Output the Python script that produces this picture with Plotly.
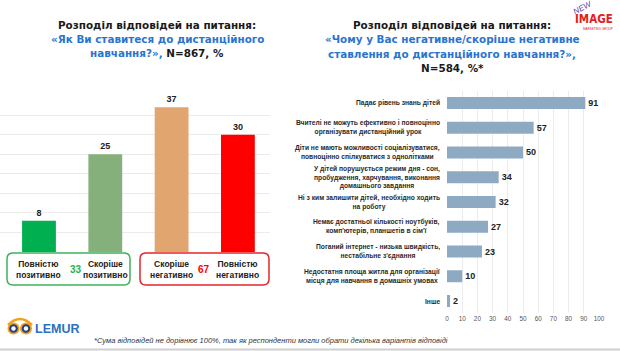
import plotly.graph_objects as go

W, H = 620, 351

# ---------------- data ----------------
left_categories = ["Повністю<br>позитивно", "Скоріше<br>позитивно",
                   "Скоріше<br>негативно", "Повністю<br>негативно"]
left_values = [8, 25, 37, 30]
left_colors = ["#00b050", "#86b07b", "#e1a56f", "#ff0000"]
group_totals = ["33", "67"]
group_colors = ["#1fb450", "#ff0000"]

right_categories = [
    "Падає рівень знань дітей",
    "Вчителі не можуть ефективно і повноцінно<br>організувати дистанційний урок",
    "Діти не мають можливості соціалізуватися,<br>повноцінно спілкуватися з однолітками",
    "У дітей порушується режим дня - сон,<br>пробудження, харчування, виконання<br>домашнього завдання",
    "Ні з ким залишити дітей, необхідно ходить<br>на роботу",
    "Немає достатньої кількості ноутбуків,<br>комп'ютерів, планшетів в сім'ї",
    "Поганий інтернет - низька швидкість,<br>нестабільне з'єднання",
    "Недостатня площа житла для організації<br>місця для навчання в домашніх умовах",
    "Інше",
]
right_values = [91, 57, 50, 34, 32, 27, 23, 10, 2]
right_ticks = [0, 10, 20, 30, 40, 50, 60, 70, 80, 90, 100]

BLUE = "#2a74d0"
left_title_lines = [
    "Розподіл відповідей на питання:",
    f"<span style='color:{BLUE}'>«Як Ви ставитеся до дистанційного</span>",
    f"<span style='color:{BLUE}'>навчання?»,</span> N=867, %",
]
right_title_lines = [
    "Розподіл відповідей на питання:",
    f"<span style='color:{BLUE}'>«Чому у Вас негативне/скоріше негативне</span>",
    f"<span style='color:{BLUE}'>ставлення до дистанційного навчання?»,</span>",
    "N=584, %*",
]
footnote = ("*Сума відповідей не дорівнює 100%, так як респонденти могли обрати "
            "декілька варіантів відповіді")


def px(x):
    return x / W


def py(y):
    return 1 - y / H


fig = go.Figure()

# left chart
fig.add_trace(go.Bar(
    x=list(range(len(left_values))), y=left_values,
    marker=dict(color=left_colors, line=dict(width=0)),
    width=0.51,
    texttemplate="<b>%{y}</b>", textposition="outside",
    textfont=dict(family="Liberation Sans", size=9, color="#222222"),
    cliponaxis=False, xaxis="x", yaxis="y", showlegend=False,
    hoverinfo="skip",
))

# right chart
fig.add_trace(go.Bar(
    y=right_categories, x=right_values, orientation="h",
    marker=dict(color="#8eaac3", line=dict(width=0)),
    width=0.48,
    texttemplate="<b>%{x}</b>", textposition="outside",
    textfont=dict(family="Liberation Sans", size=9, color="#222222"),
    cliponaxis=False, xaxis="x2", yaxis="y2", showlegend=False,
    hoverinfo="skip",
))

annotations = []
shapes = []

# titles (one annotation per line for exact spacing)
for k, line in enumerate(left_title_lines):
    annotations.append(dict(text="<b>" + line + "</b>", x=px(157), y=py(25 + 14.2 * k),
                            xref="paper", yref="paper", xanchor="center", yanchor="middle",
                            showarrow=False,
                            font=dict(family="DejaVu Sans", size=10.4, color="#1a1a1a")))
for k, line in enumerate(right_title_lines):
    annotations.append(dict(text="<b>" + line + "</b>", x=px(452), y=py(25 + 14.3 * k),
                            xref="paper", yref="paper", xanchor="center", yanchor="middle",
                            showarrow=False,
                            font=dict(family="DejaVu Sans", size=10.4, color="#1a1a1a")))

# right chart category labels
for cat in right_categories:
    annotations.append(dict(text="<b>" + cat + "</b>", x=px(442), y=cat,
                            xref="paper", yref="y2", xanchor="right", yanchor="middle",
                            showarrow=False, align="center",
                            font=dict(family="Liberation Sans", size=6.7, color="#2a2a2a")))

# left chart box labels
for i, cat in enumerate(left_categories):
    annotations.append(dict(text="<b>" + cat + "</b>", x=i, y=py(269),
                            xref="x", yref="paper", xanchor="center", yanchor="middle",
                            showarrow=False, align="center",
                            font=dict(family="Liberation Sans", size=8.5, color="#222222")))
for xpos, tot, col in zip([76, 204], group_totals, group_colors):
    annotations.append(dict(text="<b>" + tot + "</b>", x=px(xpos), y=py(269),
                            xref="paper", yref="paper", xanchor="center", yanchor="middle",
                            showarrow=False,
                            font=dict(family="Liberation Sans", size=10, color=col)))


def rrect(x0, y0, x1, y1, r):
    pts = [("M", x0 + r, y0), ("L", x1 - r, y0), ("Q", x1, y0, x1, y0 + r),
           ("L", x1, y1 - r), ("Q", x1, y1, x1 - r, y1), ("L", x0 + r, y1),
           ("Q", x0, y1, x0, y1 - r), ("L", x0, y0 + r), ("Q", x0, y0, x0 + r, y0)]
    s = ""
    for p in pts:
        cmd = p[0]
        coords = p[1:]
        parts = []
        for k in range(0, len(coords), 2):
            parts.append(f"{px(coords[k]):.5f},{py(coords[k+1]):.5f}")
        s += cmd + " " + " ".join(parts) + " "
    return s + "Z"


shapes.append(dict(type="path", path=rrect(7, 253, 130, 285, 6), xref="paper", yref="paper",
                   line=dict(color="#3cb35a", width=1.5), fillcolor="rgba(0,0,0,0)"))
shapes.append(dict(type="path", path=rrect(140, 253, 269, 285, 6), xref="paper", yref="paper",
                   line=dict(color="#e5262a", width=1.5), fillcolor="rgba(0,0,0,0)"))

# bottom gray line
shapes.append(dict(type="line", x0=0, x1=1, y0=py(349.5), y1=py(349.5), xref="paper", yref="paper",
                   line=dict(color="#cfcfcf", width=2)))

# LEMUR logo
shapes.append(dict(type="path", xref="paper", yref="paper",
                   path=f"M {px(8)},{py(325)} Q {px(20)},{py(313)} {px(32)},{py(325)}",
                   line=dict(color="#f3a21b", width=2.5)))
for cx in [13.5, 26]:
    shapes.append(dict(type="circle", xref="paper", yref="paper",
                       x0=px(cx - 6), x1=px(cx + 6), y0=py(328.5 + 6), y1=py(328.5 - 6),
                       fillcolor="#f3a21b", line=dict(width=0)))
    shapes.append(dict(type="circle", xref="paper", yref="paper",
                       x0=px(cx - 4.3), x1=px(cx + 4.3), y0=py(328.5 + 4.3), y1=py(328.5 - 4.3),
                       fillcolor="#233f8c", line=dict(width=0)))
    shapes.append(dict(type="circle", xref="paper", yref="paper",
                       x0=px(cx - 2.2), x1=px(cx + 2.2), y0=py(328.5 + 2.2), y1=py(328.5 - 2.2),
                       fillcolor="#ffffff", line=dict(width=0)))
annotations.append(dict(text="<b>LEMUR</b>", x=px(33), y=py(328.5), xref="paper", yref="paper",
                        xanchor="left", yanchor="middle", showarrow=False,
                        font=dict(family="Liberation Sans", size=12.5, color="#2e6fc0")))

# NEW IMAGE logo
annotations.append(dict(text="<b>IMAGE</b>", x=px(615), y=py(19), xref="paper", yref="paper",
                        xanchor="right", yanchor="middle", showarrow=False,
                        font=dict(family="Liberation Sans Narrow, DejaVu Sans Condensed, Liberation Sans",
                                  size=11.5, color="#e3201b")))
annotations.append(dict(text="<i>NEW</i>", x=px(583), y=py(8), xref="paper", yref="paper",
                        xanchor="center", yanchor="middle", showarrow=False, textangle=-28,
                        font=dict(family="Liberation Sans", size=8, color="#6a3ea0")))
annotations.append(dict(text="MARKETING GROUP", x=px(598), y=py(29), xref="paper", yref="paper",
                        xanchor="center", yanchor="middle", showarrow=False,
                        font=dict(family="Liberation Sans", size=3, color="#e3201b")))

# footnote
annotations.append(dict(text="<i>" + footnote + "</i>", x=px(92), y=py(340), xref="paper", yref="paper",
                        xanchor="left", yanchor="middle", showarrow=False,
                        font=dict(family="Liberation Sans", size=7.5, color="#333333")))

fig.update_layout(
    width=W, height=H,
    margin=dict(l=0, r=0, t=0, b=0, autoexpand=False),
    paper_bgcolor="white", plot_bgcolor="white",
    xaxis=dict(domain=[px(0), px(270)], range=[-0.588, 3.484], showticklabels=False,
               showgrid=False, zeroline=False, showline=False, ticks="", automargin=False),
    yaxis=dict(domain=[py(252), py(95.5)], range=[0, 40], tickvals=[5, 10, 15, 20, 25, 30, 35],
               showticklabels=False, showgrid=True, gridcolor="#ebebeb", gridwidth=1,
               zeroline=False, showline=False, ticks="", automargin=False),
    xaxis2=dict(domain=[px(447), px(599)], range=[0, 100], tickvals=right_ticks,
                anchor="y2", showgrid=True, gridcolor="#ececec", gridwidth=1,
                zeroline=False, showline=False, ticks="", automargin=False,
                tickfont=dict(family="Liberation Sans", size=6.4, color="#555555")),
    yaxis2=dict(domain=[py(313.4), py(90.6)], anchor="x2", autorange="reversed",
                type="category", showticklabels=False, showgrid=False,
                zeroline=False, showline=False, ticks="", automargin=False),
    annotations=annotations,
    shapes=shapes,
)

fig.write_html("out.html")
